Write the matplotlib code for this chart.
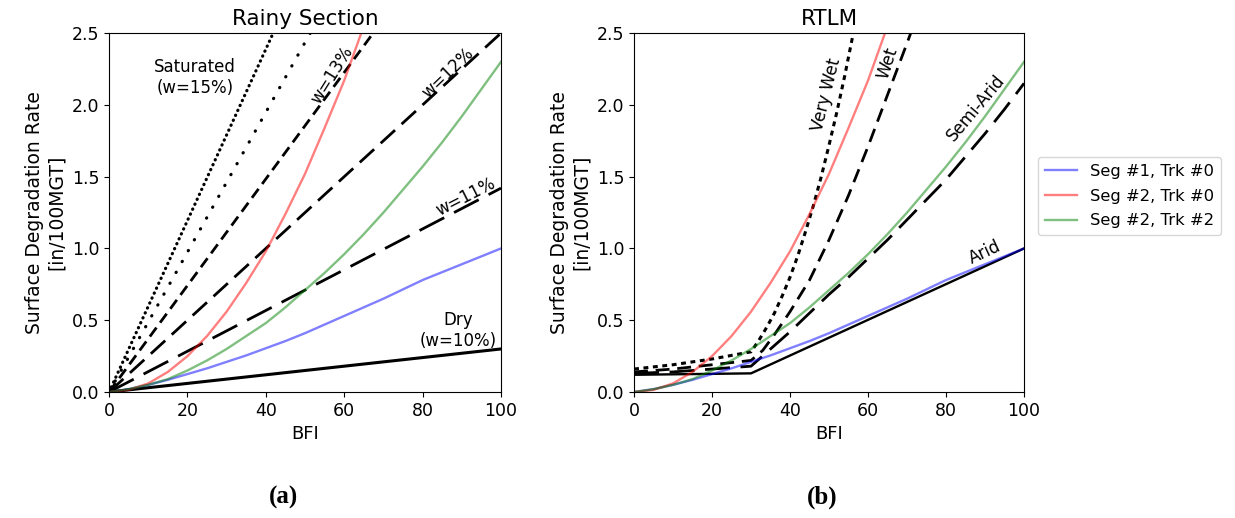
import numpy as np
import matplotlib
matplotlib.use("Agg")
import matplotlib.pyplot as plt

plt.rcParams["font.size"] = 12

# measured segment curves (same in both panels)
bfi = [0, 5, 10, 15, 20, 25, 30, 35, 40, 45, 50, 55, 60, 65, 70, 75, 80, 85, 90, 95, 100]
seg1_trk0 = [0, 0.02, 0.05, 0.085, 0.125, 0.165, 0.21, 0.255, 0.305, 0.355, 0.41,
             0.47, 0.53, 0.59, 0.65, 0.715, 0.78, 0.835, 0.89, 0.945, 1.00]
seg2_trk2 = [0, 0.02, 0.05, 0.09, 0.15, 0.22, 0.30, 0.39, 0.48, 0.59, 0.71,
             0.83, 0.96, 1.10, 1.25, 1.41, 1.57, 1.74, 1.92, 2.11, 2.30]
bfi_red = [0, 5, 10, 15, 20, 25, 30, 35, 40, 45, 50, 55, 60, 65, 70]
seg2_trk0 = [0, 0.015, 0.06, 0.14, 0.25, 0.39, 0.56, 0.76, 0.98, 1.24, 1.52,
             1.84, 2.17, 2.55, 2.95]

# rainy section moisture lines (linear, end points)
rainy_bfi = [0, 100]
w10 = [0, 0.30]
w11 = [0, 1.42]
w12 = [0, 2.50]
w13 = [0, 3.71]
w14 = [0, 4.87]
w15 = [0, 5.97]

# RTLM climate curves
arid_bfi = [0, 30, 100]
arid = [0.12, 0.13, 1.00]
semi_bfi = [0, 10, 20, 30, 35, 40, 45, 50, 55, 60, 65, 70, 75, 80, 85, 90, 95, 100]
semi_arid = [0.13, 0.14, 0.16, 0.18, 0.30, 0.42, 0.55, 0.68, 0.80, 0.93, 1.06,
             1.20, 1.34, 1.48, 1.64, 1.80, 1.97, 2.15]
wet_bfi = [0, 10, 20, 30, 33, 36, 40, 45, 50, 55, 60, 65, 70, 75]
wet = [0.14, 0.16, 0.19, 0.22, 0.29, 0.40, 0.56, 0.78, 1.06, 1.37, 1.71, 2.07, 2.43, 2.80]
vwet_bfi = [0, 10, 20, 30, 32, 34, 36, 38, 40, 42, 44, 46, 48, 50, 52, 54, 56, 58]
very_wet = [0.16, 0.19, 0.23, 0.28, 0.36, 0.45, 0.55, 0.67, 0.80, 0.95, 1.12,
            1.30, 1.50, 1.72, 1.95, 2.20, 2.47, 2.75]

fig = plt.figure(figsize=(12.35, 5.18), dpi=100)
ax1 = fig.add_axes([0.0883, 0.2432, 0.3174, 0.693])
ax2 = fig.add_axes([0.5134, 0.2432, 0.3158, 0.693])


def seg_lines(ax):
    l1, = ax.plot(bfi, seg1_trk0, color="b", alpha=0.5, lw=1.7, label="Seg #1, Trk #0")
    l2, = ax.plot(bfi_red, seg2_trk0, color="r", alpha=0.5, lw=1.7, label="Seg #2, Trk #0")
    l3, = ax.plot(bfi, seg2_trk2, color="g", alpha=0.5, lw=1.7, label="Seg #2, Trk #2")
    return [l1, l2, l3]


# (a) rainy section
ax1.plot(rainy_bfi, w15, color="k", lw=2.3, dashes=(0.1, 1.6), dash_capstyle="round")
ax1.plot(rainy_bfi, w14, color="k", lw=2.3, dashes=(0.1, 3.8), dash_capstyle="round")
ax1.plot(rainy_bfi, w13, color="k", lw=2, dashes=(4, 2.2))
ax1.plot(rainy_bfi, w12, color="k", lw=2, dashes=(7, 3.2))
ax1.plot(rainy_bfi, w11, color="k", lw=2, dashes=(10, 4))
ax1.plot(rainy_bfi, w10, color="k", lw=2.2)
handles = seg_lines(ax1)

ax1.text(22, 2.19, "Saturated\n(w=15%)", ha="center", va="center", fontsize=12)
ax1.text(57, 2.21, "w=13%", ha="center", va="center", rotation=58, fontsize=12)
ax1.text(86.5, 2.22, "w=12%", ha="center", va="center", rotation=44, fontsize=12)
ax1.text(91, 1.36, "w=11%", ha="center", va="center", rotation=27, fontsize=12)
ax1.text(89, 0.43, "Dry\n(w=10%)", ha="center", va="center", fontsize=12)
ax1.set_title("Rainy Section", fontsize=15.5)

# (b) RTLM
ax2.plot(vwet_bfi, very_wet, color="k", lw=2.2, dashes=(1.6, 1.5))
ax2.plot(wet_bfi, wet, color="k", lw=2, dashes=(5, 2.8))
ax2.plot(semi_bfi, semi_arid, color="k", lw=2, dashes=(9, 3.8))
ax2.plot(arid_bfi, arid, color="k", lw=1.7)
seg_lines(ax2)

ax2.text(49.4, 2.07, "Very Wet", ha="center", va="center", rotation=76, fontsize=12)
ax2.text(65, 2.29, "Wet", ha="center", va="center", rotation=72, fontsize=12)
ax2.text(87.7, 1.98, "Semi-Arid", ha="center", va="center", rotation=50, fontsize=12)
ax2.text(90, 0.975, "Arid", ha="center", va="center", rotation=25, fontsize=12)
ax2.set_title("RTLM", fontsize=15.5)

for ax in (ax1, ax2):
    ax.set_xlim(0, 100)
    ax.set_ylim(0, 2.5)
    ax.set_xticks([0, 20, 40, 60, 80, 100])
    ax.set_yticks([0, 0.5, 1.0, 1.5, 2.0, 2.5])
    ax.tick_params(labelsize=12.5)
    ax.set_xlabel("BFI", fontsize=13)
    ax.set_ylabel("Surface Degradation Rate\n[in/100MGT]", fontsize=13.5)

fig.legend(handles=handles, loc="center left", bbox_to_anchor=(1038 / 1235, 1 - 196 / 518),
           fontsize=11.8, handlelength=2.0, labelspacing=0.6, borderaxespad=0)

fig.text(283 / 1235, 1 - 497 / 518, "(a)", ha="center", va="center",
         family="Liberation Serif", weight="bold", fontsize=18)
fig.text(822 / 1235, 1 - 497 / 518, "(b)", ha="center", va="center",
         family="Liberation Serif", weight="bold", fontsize=18)

fig.savefig("out.png", dpi=100)
